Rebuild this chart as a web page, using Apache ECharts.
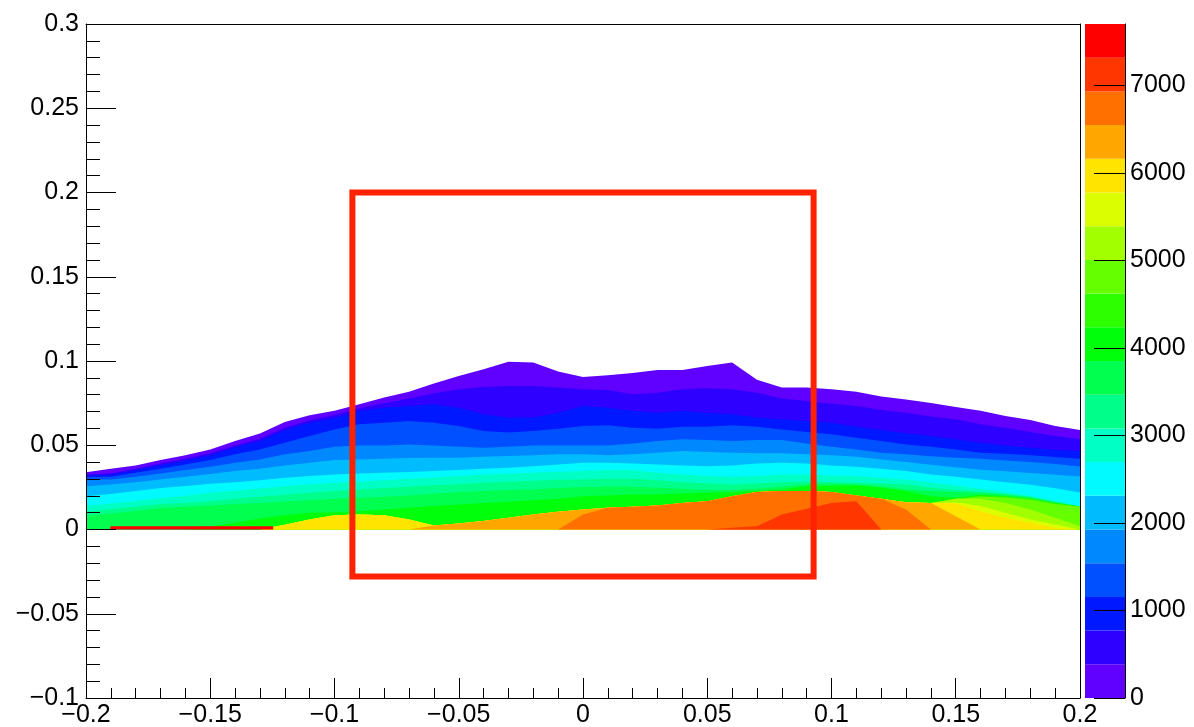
<!DOCTYPE html>
<html>
<head>
<meta charset="utf-8">
<script src="https://cdn.jsdelivr.net/npm/echarts@6/dist/echarts.min.js"></script>
<style>
html, body { margin: 0; padding: 0; background: #fff; }
#main { width: 1194px; height: 727px; }
</style>
</head>
<body>
<div id="main"></div>
<script>
// x sample positions (bin columns read every 0.01)
const xs = [-0.20, -0.19, -0.18, -0.17, -0.16, -0.15, -0.14, -0.13, -0.12, -0.11,
  -0.10, -0.09, -0.08, -0.07, -0.06, -0.05, -0.04, -0.03, -0.02, -0.01,
  0.00, 0.01, 0.02, 0.03, 0.04, 0.05, 0.06, 0.07, 0.08, 0.09,
  0.10, 0.11, 0.12, 0.13, 0.14, 0.15, 0.16, 0.17, 0.18, 0.19, 0.20];

// upper y edge of the region where content >= level k (level k = k*385)
const lvl0 = [0.0340, 0.0360, 0.0380, 0.0412, 0.0440, 0.0475, 0.0525, 0.0569, 0.0638, 0.0678, 0.0705, 0.0743, 0.0783, 0.0818, 0.0866, 0.0911, 0.0951, 0.0995, 0.0991, 0.0937, 0.0905, 0.0915, 0.0929, 0.0947, 0.0947, 0.0971, 0.0991, 0.0888, 0.0842, 0.0842, 0.0832, 0.0818, 0.0790, 0.0771, 0.0751, 0.0727, 0.0705, 0.0674, 0.0650, 0.0614, 0.0590];
const lvl1 = [0.0327, 0.0333, 0.0361, 0.0392, 0.0420, 0.0452, 0.0499, 0.0539, 0.0604, 0.0648, 0.0678, 0.0719, 0.0749, 0.0777, 0.0808, 0.0832, 0.0846, 0.0852, 0.0852, 0.0842, 0.0832, 0.0828, 0.0802, 0.0812, 0.0832, 0.0838, 0.0832, 0.0812, 0.0777, 0.0763, 0.0747, 0.0733, 0.0709, 0.0693, 0.0670, 0.0654, 0.0624, 0.0604, 0.0579, 0.0555, 0.0535];
const lvl2 = [0.0320, 0.0325, 0.0353, 0.0382, 0.0410, 0.0440, 0.0487, 0.0525, 0.0590, 0.0634, 0.0662, 0.0703, 0.0723, 0.0733, 0.0743, 0.0723, 0.0684, 0.0664, 0.0664, 0.0693, 0.0733, 0.0723, 0.0703, 0.0693, 0.0703, 0.0693, 0.0684, 0.0664, 0.0654, 0.0644, 0.0634, 0.0610, 0.0590, 0.0571, 0.0555, 0.0535, 0.0515, 0.0499, 0.0485, 0.0472, 0.0466];
const lvl3 = [0.0310, 0.0313, 0.0337, 0.0361, 0.0386, 0.0412, 0.0446, 0.0475, 0.0515, 0.0555, 0.0594, 0.0624, 0.0634, 0.0644, 0.0634, 0.0614, 0.0584, 0.0575, 0.0584, 0.0598, 0.0614, 0.0618, 0.0604, 0.0598, 0.0610, 0.0610, 0.0618, 0.0610, 0.0594, 0.0579, 0.0565, 0.0545, 0.0525, 0.0505, 0.0491, 0.0475, 0.0456, 0.0450, 0.0440, 0.0430, 0.0420];
const lvl4 = [0.0297, 0.0297, 0.0313, 0.0333, 0.0353, 0.0372, 0.0396, 0.0416, 0.0446, 0.0466, 0.0491, 0.0499, 0.0499, 0.0505, 0.0499, 0.0491, 0.0485, 0.0491, 0.0499, 0.0499, 0.0499, 0.0499, 0.0511, 0.0525, 0.0535, 0.0531, 0.0525, 0.0531, 0.0531, 0.0511, 0.0491, 0.0475, 0.0456, 0.0446, 0.0435, 0.0426, 0.0420, 0.0410, 0.0400, 0.0388, 0.0374];
const lvl5 = [0.0257, 0.0267, 0.0281, 0.0297, 0.0313, 0.0329, 0.0347, 0.0361, 0.0380, 0.0396, 0.0412, 0.0416, 0.0420, 0.0424, 0.0426, 0.0426, 0.0432, 0.0436, 0.0440, 0.0446, 0.0446, 0.0440, 0.0446, 0.0456, 0.0466, 0.0460, 0.0456, 0.0452, 0.0452, 0.0446, 0.0440, 0.0432, 0.0416, 0.0400, 0.0385, 0.0370, 0.0355, 0.0345, 0.0335, 0.0325, 0.0315];
const lvl6 = [0.0198, 0.0210, 0.0228, 0.0246, 0.0258, 0.0271, 0.0281, 0.0293, 0.0307, 0.0317, 0.0327, 0.0333, 0.0337, 0.0341, 0.0347, 0.0353, 0.0361, 0.0367, 0.0376, 0.0386, 0.0396, 0.0396, 0.0392, 0.0386, 0.0380, 0.0376, 0.0380, 0.0392, 0.0396, 0.0392, 0.0380, 0.0372, 0.0361, 0.0347, 0.0327, 0.0313, 0.0297, 0.0281, 0.0265, 0.0245, 0.0220];
const lvl7 = [0.0140, 0.0155, 0.0170, 0.0186, 0.0200, 0.0218, 0.0232, 0.0244, 0.0258, 0.0267, 0.0277, 0.0285, 0.0293, 0.0301, 0.0309, 0.0317, 0.0327, 0.0333, 0.0337, 0.0343, 0.0347, 0.0353, 0.0353, 0.0337, 0.0327, 0.0317, 0.0313, 0.0317, 0.0327, 0.0327, 0.0321, 0.0317, 0.0307, 0.0297, 0.0277, 0.0262, 0.0242, 0.0222, 0.0200, 0.0170, 0.0137];
const lvl8 = [0.0105, 0.0120, 0.0135, 0.0151, 0.0158, 0.0168, 0.0182, 0.0194, 0.0206, 0.0218, 0.0228, 0.0238, 0.0246, 0.0254, 0.0262, 0.0269, 0.0277, 0.0283, 0.0289, 0.0295, 0.0297, 0.0301, 0.0301, 0.0293, 0.0281, 0.0273, 0.0267, 0.0273, 0.0281, 0.0285, 0.0281, 0.0277, 0.0273, 0.0267, 0.0248, 0.0234, 0.0224, 0.0210, 0.0194, 0.0165, 0.0137];
const lvl9 = [0.0080, 0.0095, 0.0110, 0.0127, 0.0135, 0.0143, 0.0151, 0.0158, 0.0166, 0.0174, 0.0182, 0.0188, 0.0194, 0.0202, 0.0212, 0.0222, 0.0228, 0.0234, 0.0238, 0.0246, 0.0252, 0.0254, 0.0254, 0.0248, 0.0242, 0.0234, 0.0234, 0.0242, 0.0254, 0.0267, 0.0273, 0.0267, 0.0258, 0.0238, 0.0228, 0.0222, 0.0218, 0.0206, 0.0190, 0.0162, 0.0137];
const lvl10 = [0, 0, 0, 0, 0, 0.0020, 0.0040, 0.0065, 0.0085, 0.0099, 0.0103, 0.0109, 0.0119, 0.0129, 0.0139, 0.0149, 0.0158, 0.0164, 0.0174, 0.0182, 0.0198, 0.0202, 0.0208, 0.0208, 0.0214, 0.0218, 0.0222, 0.0228, 0.0238, 0.0258, 0.0258, 0.0262, 0.0248, 0.0228, 0.0198, 0.0188, 0.0206, 0.0198, 0.0184, 0.0158, 0.0137];
const lvl11 = [0, 0, 0, 0, 0, 0, 0, 0, 0, 0, 0, 0, 0, 0, 0, 0, 0, 0, 0, 0, 0, 0, 0, 0, 0, 0, 0, 0, 0, 0, 0, 0, 0, 0, 0, 0, 0.0202, 0.0196, 0.0182, 0.0156, 0.0137];
const lvl12 = [0, 0, 0, 0, 0, 0, 0, 0, 0, 0, 0, 0, 0, 0, 0, 0, 0, 0, 0, 0, 0, 0, 0, 0, 0, 0, 0, 0, 0, 0, 0, 0, 0, 0, 0, 0, 0.0194, 0.0190, 0.0176, 0.0150, 0.0135];
const lvl13 = [0, 0, 0, 0, 0, 0, 0, 0, 0, 0, 0, 0, 0, 0, 0, 0, 0, 0, 0, 0, 0, 0, 0, 0, 0, 0, 0, 0, 0, 0, 0, 0, 0, 0, 0, 0.0182, 0.0182, 0.0158, 0.0119, 0.0069, 0.0020];
const lvl14 = [0, 0, 0, 0, 0, 0, 0, 0, 0, 0, 0, 0, 0, 0, 0, 0, 0, 0, 0, 0, 0, 0, 0, 0, 0, 0, 0, 0, 0, 0, 0, 0, 0, 0, 0, 0.0162, 0.0139, 0.0099, 0.0059, 0.0030, 0];
const lvl15 = [0, 0, 0, 0, 0, 0, 0, 0, 0.0028, 0.0059, 0.0085, 0.0089, 0.0085, 0.0059, 0, 0, 0, 0, 0, 0, 0, 0, 0, 0, 0, 0, 0, 0, 0, 0, 0, 0, 0, 0, 0, 0.0155, 0.0109, 0.0069, 0.0040, 0.0010, 0];
const lvl16 = [0, 0, 0, 0, 0, 0, 0, 0, 0, 0, 0, 0, 0, 0, 0.0024, 0.0036, 0.0050, 0.0069, 0.0089, 0.0105, 0.0119, 0, 0, 0, 0, 0, 0, 0, 0, 0, 0, 0, 0, 0.0162, 0.0158, 0.0079, 0, 0, 0, 0, 0];
const lvl17 = [0, 0, 0, 0, 0, 0, 0, 0, 0, 0, 0, 0, 0, 0, 0, 0, 0, 0, 0, 0, 0.0089, 0.0129, 0.0135, 0.0143, 0.0158, 0.0168, 0.0198, 0.0222, 0.0228, 0.0228, 0.0222, 0.0202, 0.0182, 0.0119, 0, 0, 0, 0, 0, 0, 0];
const lvl18 = [0, 0, 0, 0, 0, 0, 0, 0, 0, 0, 0, 0, 0, 0, 0, 0, 0, 0, 0, 0, 0, 0, 0, 0, 0, 0, 0.0010, 0.0020, 0.0089, 0.0123, 0.0158, 0.0168, 0, 0, 0, 0, 0, 0, 0, 0, 0];

// thin top-level strip in the first y row at the left
const stripX = [-0.1902, -0.1247];
const stripY = [0.002, 0.002];

// red box drawn over the histogram (path starts mid-edge so every corner is joined)
const boxX = [0, 0.0928, 0.0928, -0.0928, -0.0928, 0];
const boxY = [0.2, 0.2, -0.0279, -0.0279, 0.2, 0.2];

// palette: 20 contour levels of 385 up to 7700
const levelStep = 385;
const zMax = 7700;
const zTicks = [0, 1000, 2000, 3000, 4000, 5000, 6000, 7000];
const bandColors = ['#6000ff', '#2e00ff', '#0018ff', '#0050ff', '#0088ff', '#00bcff', '#00faff',
  '#00ffc4', '#00ff8a', '#00ff4e', '#00ff0a', '#2eff00', '#66ff00', '#a2ff00', '#dcff00',
  '#ffe400', '#ffa600', '#ff7000', '#ff3600', '#ff0000'];

const levelTops = [lvl0, lvl1, lvl2, lvl3, lvl4, lvl5, lvl6, lvl7, lvl8, lvl9,
  lvl10, lvl11, lvl12, lvl13, lvl14, lvl15, lvl16, lvl17, lvl18];

const chart = echarts.init(document.getElementById('main'));
const font = 'Liberation Sans, Arial, Helvetica, sans-serif';
const fmt = v => (v < 0 ? '\u2212' : '') + Math.abs(v);

// a higher level always sits inside the lower ones
const nested = levelTops.map((arr, k) => arr.map((v, i) => {
  let m = v;
  for (let j = k + 1; j < levelTops.length; j++) m = Math.max(m, levelTops[j][i]);
  return m;
}));

const series = nested.map((arr, k) => ({
  type: 'line',
  xAxisIndex: 0,
  yAxisIndex: 0,
  data: xs.map((x, i) => [x, arr[i]]),
  symbol: 'none',
  silent: true,
  lineStyle: { width: 0 },
  areaStyle: { color: bandColors[k], opacity: 1 }
}));

series.push({
  type: 'line',
  xAxisIndex: 0,
  yAxisIndex: 0,
  data: stripX.map((x, i) => [x, stripY[i]]),
  symbol: 'none',
  silent: true,
  lineStyle: { width: 0 },
  areaStyle: { color: bandColors[19], opacity: 1 }
});

series.push({
  type: 'line',
  xAxisIndex: 0,
  yAxisIndex: 0,
  data: boxX.map((x, i) => [x, boxY[i]]),
  symbol: 'none',
  silent: true,
  z: 5,
  lineStyle: { color: '#ff2200', width: 6, join: 'miter' }
});

// colour scale
bandColors.forEach(c => {
  series.push({
    type: 'bar',
    xAxisIndex: 2,
    yAxisIndex: 2,
    stack: 'palette',
    data: [levelStep],
    barWidth: '100%',
    silent: true,
    itemStyle: { color: c }
  });
});

const axisLine = { show: true, onZero: false, lineStyle: { color: '#000', width: 1 } };
const labelStyle = { color: '#000', fontSize: 25, fontFamily: font };

const option = {
  animation: false,
  backgroundColor: '#fff',
  grid: [
    { left: 86, top: 24, width: 994, height: 674, outerBoundsMode: 'none' },
    { left: 1085, top: 24, width: 40, height: 674, outerBoundsMode: 'none' }
  ],
  xAxis: [
    {
      type: 'value', gridIndex: 0, position: 'bottom',
      min: -0.2, max: 0.2, interval: 0.05, z: 10,
      axisLine: axisLine,
      axisTick: { show: true, inside: true, length: 20, lineStyle: { color: '#000' } },
      minorTick: { show: true, splitNumber: 5, length: 10, lineStyle: { color: '#000' } },
      axisLabel: Object.assign({ margin: 5, formatter: fmt }, labelStyle),
      splitLine: { show: false }
    },
    {
      type: 'value', gridIndex: 0, position: 'top',
      min: -0.2, max: 0.2, z: 10,
      axisLine: axisLine,
      axisTick: { show: false }, axisLabel: { show: false }, splitLine: { show: false }
    },
    { type: 'category', gridIndex: 1, data: ['z'], show: false }
  ],
  yAxis: [
    {
      type: 'value', gridIndex: 0, position: 'left',
      min: -0.1, max: 0.3, interval: 0.05, z: 10,
      axisLine: axisLine,
      axisTick: { show: true, inside: true, length: 30, lineStyle: { color: '#000' } },
      minorTick: { show: true, splitNumber: 5, length: 14, lineStyle: { color: '#000' } },
      axisLabel: Object.assign({ margin: 7, formatter: fmt }, labelStyle),
      splitLine: { show: false }
    },
    {
      type: 'value', gridIndex: 0, position: 'right',
      min: -0.1, max: 0.3, z: 10,
      axisLine: axisLine,
      axisTick: { show: false }, axisLabel: { show: false }, splitLine: { show: false }
    },
    {
      type: 'value', gridIndex: 1, position: 'right',
      min: 0, max: zMax, z: 10,
      axisLine: axisLine,
      axisTick: { show: true, inside: true, length: 31, customValues: zTicks, lineStyle: { color: '#000' } },
      axisLabel: Object.assign({ margin: 5, customValues: zTicks, formatter: v => String(v) }, labelStyle),
      splitLine: { show: false }
    }
  ],
  series: series
};

chart.setOption(option);
</script>
</body>
</html>
